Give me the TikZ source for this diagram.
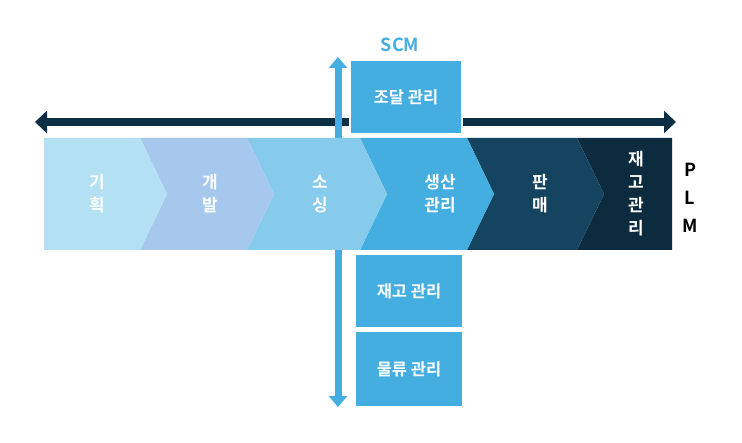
\documentclass[tikz,border=0pt]{standalone}
\usepackage{fontspec}
\setmainfont{Noto Sans CJK KR}[BoldFont={* Bold}]
\usetikzlibrary{arrows.meta, positioning}
\definecolor{cA}{HTML}{B3E1F3}
\definecolor{cB}{HTML}{A6C8EC}
\definecolor{cC}{HTML}{86CBEB}
\definecolor{cD}{HTML}{45AEE0}
\definecolor{cE}{HTML}{14445F}
\definecolor{cF}{HTML}{0D2B3E}
\definecolor{navy}{HTML}{0D2F45}
\begin{document}
\begin{tikzpicture}
  [x=1pt, y=-1pt,
   steplabel/.style={text=white, font=\bfseries\fontsize{17}{23}\selectfont, align=center},
   scmbox/.style={fill=cD, draw=white, line width=2pt, text=white,
                  font=\bfseries\fontsize{16.5}{20}\selectfont, minimum width=112pt, minimum height=74pt},
   plmletter/.style={font=\bfseries\fontsize{18}{20}\selectfont}]
  \useasboundingbox (0,0) rectangle (742,443);
  % axes
  \coordinate (hl) at (35,122);
  \coordinate (hr) at (676,122);
  \coordinate (vt) at (338,57);
  \coordinate (vb) at (338,407);
  \draw[navy, line width=8pt, {Triangle[length=12pt,width=22pt]}-{Triangle[length=12pt,width=22pt]}] (hl) -- (hr);
  \draw[cD, line width=7pt, {Triangle[length=11pt,width=18pt]}-{Triangle[length=11pt,width=18pt]}] (vt) -- (vb);
  % chevrons
  \fill[cF] (577,138) -- (672,138) -- (672,250) -- (577,250) -- (604,194) -- cycle;
  \fill[cE] (467,138) -- (577,138) -- (604,194) -- (577,250) -- (467,250) -- (494,194) -- cycle;
  \fill[cD] (360,138) -- (467,138) -- (494,194) -- (467,250) -- (360,250) -- (387,194) -- cycle;
  \fill[cC] (247,138) -- (360,138) -- (387,194) -- (360,250) -- (247,250) -- (274,194) -- cycle;
  \fill[cB] (140,138) -- (247,138) -- (274,194) -- (247,250) -- (140,250) -- (167,194) -- cycle;
  \fill[cA] (44,138) -- (140,138) -- (167,194) -- (140,250) -- (44,250) -- cycle;
  \node[steplabel] (plan)    at (97,194)  {기\\획};
  \node[steplabel] (develop) at (210,194) {개\\발};
  \node[steplabel] (source)  at (320,194) {소\\싱};
  \node[steplabel] (produce) at (440,194) {생산\\관리};
  \node[steplabel] (sell)    at (540,194) {판\\매};
  \node[steplabel] (stock)   at (636,194) {재\\고\\관\\리};
  % SCM boxes
  \node[scmbox] (procure) at (406,97) {조달 관리};
  \node[scmbox, minimum width=108pt] (inventory) at (409,291) {재고 관리};
  \node[scmbox, minimum width=108pt, minimum height=76pt] (logistics) at (409,369) {물류 관리};
  \node[text=cD, font=\bfseries\fontsize{18}{20}\selectfont] (scm) at (400,45) {SCM};
  % PLM
  \node[plmletter] (p) at (690,170) {P};
  \node[plmletter] (l) at (690,198) {L};
  \node[plmletter] (m) at (690,226) {M};
\end{tikzpicture}
\end{document}
